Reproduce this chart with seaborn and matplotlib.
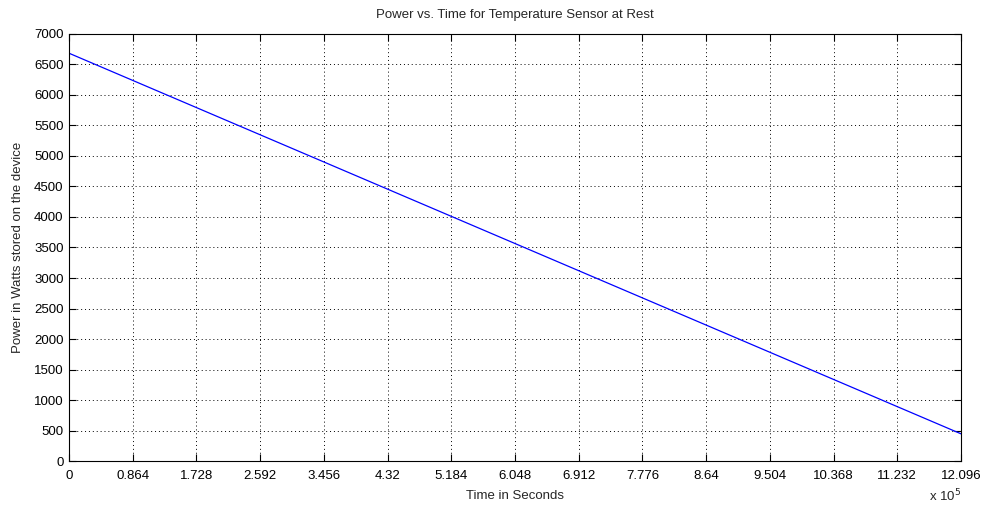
import matplotlib
matplotlib.use("Agg")
import matplotlib.pyplot as plt
import seaborn as sns
import pandas as pd
import numpy as np
from matplotlib.ticker import FuncFormatter, FixedLocator

time_s = [0, 1209600]
power_w = [6680, 450]
x_ticks = [i * 86400 for i in range(15)]
y_ticks = list(range(0, 7001, 500))

sns.set_style("white")
plt.rcParams['font.family'] = ['Liberation Sans', 'DejaVu Sans']

df = pd.DataFrame({"t": time_s, "p": power_w})
fig = plt.figure(figsize=(9.89, 5.08), dpi=100)
ax = fig.add_axes([0.0698, 0.0919, 0.9019, 0.8418])
sns.lineplot(data=df, x="t", y="p", ax=ax, color="#0000ff", linewidth=0.9)

ax.set_xlim(0, 1209600)
ax.set_ylim(0, 7000)
ax.xaxis.set_major_locator(FixedLocator(x_ticks))
ax.yaxis.set_major_locator(FixedLocator(y_ticks))
ax.xaxis.set_major_formatter(FuncFormatter(lambda v, p: "%g" % round(v / 1e5, 3)))
ax.yaxis.set_major_formatter(FuncFormatter(lambda v, p: "%d" % v))
ax.tick_params(direction="in", length=5, width=0.8, colors="black", labelsize=9.5,
               top=True, right=True, bottom=True, left=True)
ax.tick_params(axis="x", pad=6)
ax.tick_params(axis="y", pad=4)
ax.grid(True, linestyle=(0, (1, 3)), color="black", linewidth=0.7)
for s in ax.spines.values():
    s.set_color("black")
    s.set_linewidth(0.8)
    s.set_visible(True)

ax.set_title("Power vs. Time for Temperature Sensor at Rest", fontsize=9.5, pad=11)
ax.set_xlabel("Time in Seconds", fontsize=9.5, labelpad=6)
ax.set_ylabel("Power in Watts stored on the device", fontsize=9.5, labelpad=7)
ax.text(1.0, -0.062, r"x 10$^5$", transform=ax.transAxes, ha="right", va="top", fontsize=9.5)

fig.savefig("out.png", dpi=100, facecolor="white")
